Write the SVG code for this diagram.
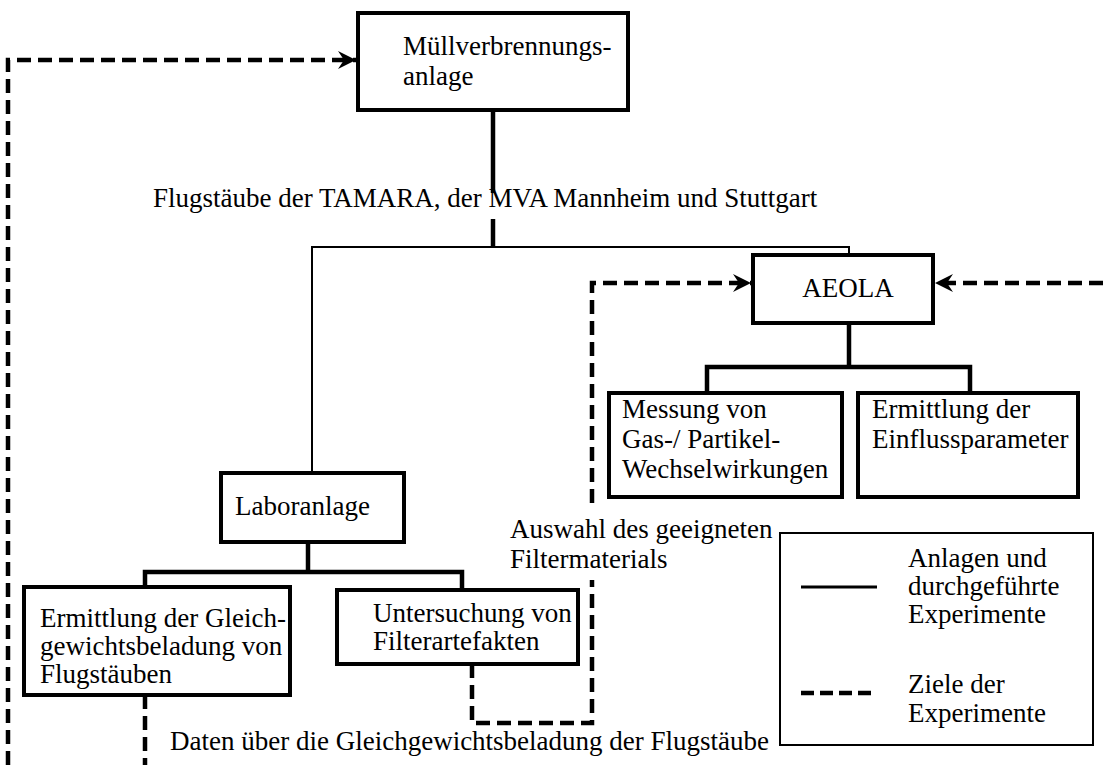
<svg xmlns="http://www.w3.org/2000/svg" width="1103" height="765" viewBox="0 0 1103 765">
<style>
  text { font-family: "Liberation Serif", "Times New Roman", Times, serif; font-size: 27px; fill: #000; }
  .box { fill: #fff; stroke: #000; stroke-width: 4; }
  .legend { fill: #fff; stroke: #000; stroke-width: 2; }
  .thick { fill: none; stroke: #000; stroke-width: 4.5; }
  .thin { fill: none; stroke: #000; stroke-width: 2; }
  .dash { fill: none; stroke: #000; stroke-width: 4.5; stroke-dasharray: 14 7; }
</style>
<defs>
  <marker id="arr" markerUnits="userSpaceOnUse" markerWidth="20" markerHeight="20" refX="18" refY="9" orient="auto" viewBox="0 0 20 18">
    <path d="M0,0 L18,9 L0,18 L6,9 Z" fill="#000"/>
  </marker>
</defs>
<rect width="1103" height="765" fill="#fff"/>

<g id="connectors">
  <path class="thick" d="M493,110 V193"/>
  <path class="thick" d="M493,219 V247"/>
  <path class="thin" d="M312,473 V247 H849 V255"/>
  <path class="thick" d="M849,323 V367"/>
  <path class="thick" d="M707,393 V367 H970 V393"/>
  <path class="thick" d="M308,542 V572"/>
  <path class="thick" d="M145,587 V572 H462 V590"/>
  <path class="dash" d="M8,765 V60 H356" marker-end="url(#arr)"/>
  <path class="dash" d="M145,695 V765"/>
  <path class="dash" d="M472,664 V723 H592 V580"/>
  <path class="dash" d="M592,503 V283 H751" marker-end="url(#arr)"/>
  <path class="dash" d="M1103,283 H935" marker-end="url(#arr)"/>
</g>

<g id="label-flugstaeube">
  <text x="153" y="207">Flugstäube der TAMARA, der MVA Mannheim und Stuttgart</text>
</g>
<g id="label-auswahl">
  <text x="510" y="538">Auswahl des geeigneten</text>
  <text x="510" y="568">Filtermaterials</text>
</g>
<g id="label-daten">
  <text x="170" y="750">Daten über die Gleichgewichtsbeladung der Flugstäube</text>
</g>

<g id="node-muell">
  <rect class="box" x="358" y="13" width="270" height="97"/>
  <text x="403" y="55">Müllverbrennungs-</text>
  <text x="403" y="85">anlage</text>
</g>
<g id="node-aeola">
  <rect class="box" x="753" y="255" width="180" height="68"/>
  <text x="848" y="297" text-anchor="middle">AEOLA</text>
</g>
<g id="node-messung">
  <rect class="box" x="609" y="393" width="233" height="104"/>
  <text x="622" y="418">Messung von</text>
  <text x="622" y="448">Gas-/ Partikel-</text>
  <text x="622" y="478">Wechselwirkungen</text>
</g>
<g id="node-einfluss">
  <rect class="box" x="858" y="393" width="220" height="104"/>
  <text x="872" y="418">Ermittlung der</text>
  <text x="872" y="448">Einflussparameter</text>
</g>
<g id="node-labor">
  <rect class="box" x="221" y="473" width="183" height="69"/>
  <text x="235" y="515">Laboranlage</text>
</g>
<g id="node-gleichgewicht">
  <rect class="box" x="24" y="587" width="266" height="108"/>
  <text x="40" y="627">Ermittlung der Gleich-</text>
  <text x="40" y="655">gewichtsbeladung von</text>
  <text x="40" y="683">Flugstäuben</text>
</g>
<g id="node-filter">
  <rect class="box" x="337" y="590" width="241" height="74"/>
  <text x="373" y="622">Untersuchung von</text>
  <text x="373" y="650">Filterartefakten</text>
</g>
<g id="legend">
  <rect class="legend" x="780" y="533" width="313" height="212"/>
  <path fill="none" stroke="#000" stroke-width="3" d="M801,587 H877"/>
  <path fill="none" stroke="#000" stroke-width="4.5" stroke-dasharray="13 6" d="M801,693 H877"/>
  <text x="908" y="567">Anlagen und</text>
  <text x="908" y="595">durchgeführte</text>
  <text x="908" y="623">Experimente</text>
  <text x="908" y="693">Ziele der</text>
  <text x="908" y="722">Experimente</text>
</g>
</svg>
